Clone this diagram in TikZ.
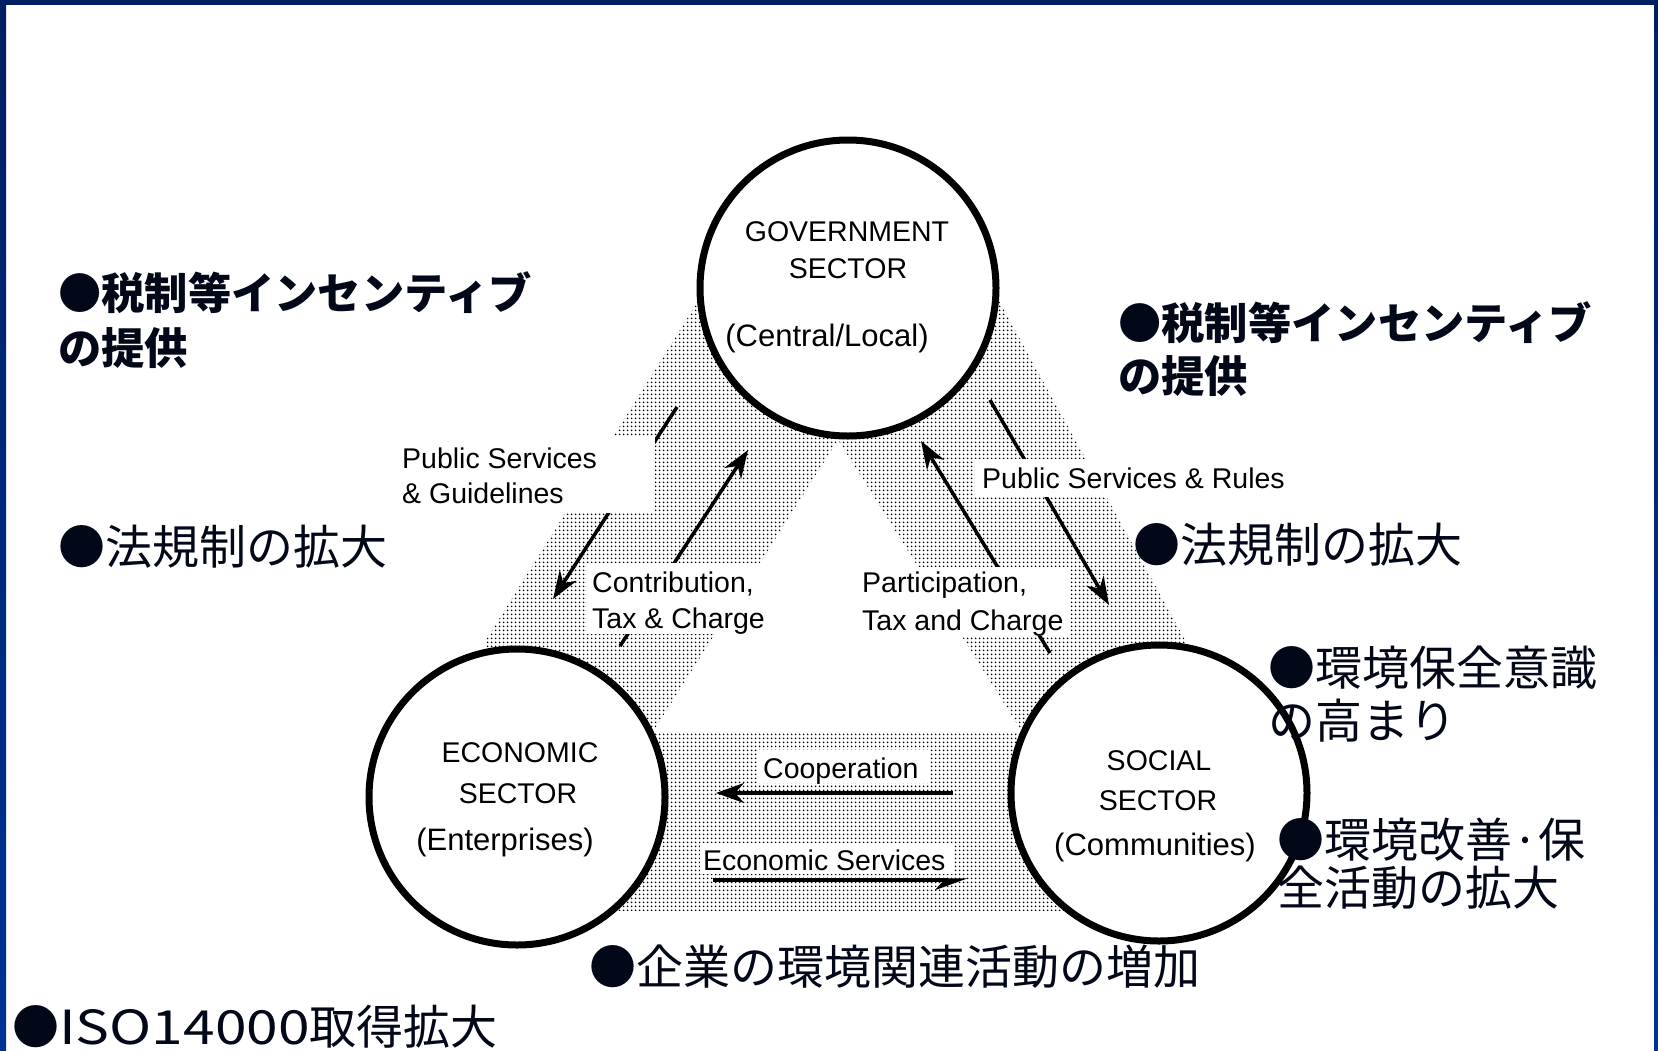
\documentclass[tikz,border=0pt]{standalone}
\usepackage{fontspec}
\usepackage{graphicx}
\setmainfont{Liberation Sans}
\newfontfamily\jp{Noto Sans CJK JP}
\usetikzlibrary{arrows.meta,patterns.meta}
\definecolor{navyA}{RGB}{0,30,98}
\definecolor{navyB}{RGB}{0,50,150}
\definecolor{jtext}{RGB}{2,8,24}
\begin{document}
\begin{tikzpicture}[x=1pt,y=-1pt,
  sector/.style={circle,draw,line width=7pt,fill=white,minimum size=296pt,inner sep=0pt},
  ctext/.style={anchor=base,inner sep=0pt,font=\fontsize{28.5}{30}\selectfont},
  ptext/.style={anchor=base,inner sep=0pt,font=\fontsize{31}{33}\selectfont},
  lbl/.style={anchor=base west,inner sep=0pt,font=\fontsize{28.5}{30}\selectfont},
  flow/.style={line width=3.5pt,-{Stealth[length=28pt,width=20pt,inset=9pt]}},
  halfflow/.style={line width=3.5pt,-{Stealth[length=28pt,width=20pt,inset=9pt,harpoon,swap]}},
  knock/.style={fill=white},
  jbold/.style={anchor=base west,inner sep=0pt,text=jtext,font=\jp\bfseries\fontsize{43.3}{50}\selectfont},
  jreg/.style={anchor=base west,inner sep=0pt,text=jtext,font=\jp\fontsize{47}{50}\selectfont},
]
\useasboundingbox (0,0) rectangle (1658,1050);
\fill[white] (0,0) rectangle (1658,1050);
% frame
\shade[top color=navyA,bottom color=navyB] (0,0) rectangle (6,1050);
\shade[top color=navyA,bottom color=navyB] (1654,0) rectangle (1658,1050);
\fill[navyA] (0,0) rectangle (1658,5);

% halftone band
\fill[pattern={Dots[distance=4pt,radius=1.15pt]},pattern color=black]
  (705,290) -- (486,640) -- (480,911) -- (1190,911) -- (1185,640) -- (993,290) -- cycle;
\fill[white] (838,440) -- (653,732) -- (1022,732) -- cycle;

% connector end points
\coordinate (a1s) at (677,407); \coordinate (a1e) at (553,599);
\coordinate (a2s) at (620,646); \coordinate (a2e) at (748,450);
\coordinate (a3s) at (1050,653); \coordinate (a3e) at (921,441);
\coordinate (a4s) at (990,400); \coordinate (a4e) at (1109,605);
\coordinate (a5s) at (953,793); \coordinate (a5e) at (716,793);
\coordinate (a6s) at (713,880); \coordinate (a6e) at (968,880);

\draw[flow] (a1s) -- (a1e);
\draw[flow] (a2s) -- (a2e);
\draw[flow] (a3s) -- (a3e);
\draw[flow] (a4s) -- (a4e);
\draw[flow] (a5s) -- (a5e);
\draw[halfflow] (a6s) -- (a6e);

% label knock-outs
\fill[knock] (395,437) rectangle (655,513);
\fill[knock] (587,563) rectangle (772,634);
\fill[knock] (856,567) rectangle (1070,636);
\fill[knock] (975,459) rectangle (1295,497);
\fill[knock] (757,750) rectangle (930,783);
\fill[knock] (700,843) rectangle (953,874);

% sectors
\node[sector] (gov) at (848,288) {};
\node[sector] (eco) at (517,797) {};
\node[sector] (soc) at (1159,793) {};

\node[ctext] (gov1) at (847,241) {GOVERNMENT};
\node[ctext] (gov2) at (848,278) {SECTOR};
\node[ptext] (gov3) at (827,346) {(Central/Local)};
\node[ctext] (eco1) at (520,762) {ECONOMIC};
\node[ctext] (eco2) at (518,803) {SECTOR};
\node[ptext] (eco3) at (505,850) {(Enterprises)};
\node[ctext] (soc1) at (1159,770) {SOCIAL};
\node[ctext] (soc2) at (1158,810) {SECTOR};
\node[ptext] (soc3) at (1155,855) {(Communities)};

% flow labels
\node[lbl] (l1a) at (402,468) {Public Services};
\node[lbl] (l1b) at (402,503) {\& Guidelines};
\node[lbl] (l2a) at (592,592) {Contribution,};
\node[lbl] (l2b) at (592,628) {Tax \& Charge};
\node[lbl] (l3a) at (862,592) {Participation,};
\node[lbl] (l3b) at (862,630) {Tax and Charge};
\node[lbl] (l4) at (982,488) {Public Services \& Rules};
\node[lbl] (l5) at (763,778) {Cooperation};
\node[lbl] (l6) at (703,870) {Economic Services};

% Japanese notes
\node[jbold] (tl1) at (58,309) {●税制等インセンティブ};
\node[jbold] (tl2) at (58,364) {の提供};
\node[jreg] (ll) at (58,564) {●法規制の拡大};
\node[jbold] (tr1) at (1118,339) {●税制等インセンティブ};
\node[jbold] (tr2) at (1118,392) {の提供};
\node[jreg] (rl) at (1133,562) {●法規制の拡大};
\node[jreg] (ka1) at (1268,685) {●環境保全意識};
\node[jreg] (ka2) at (1268,738) {の高まり};
\node[jreg] (kb1) at (1277,857) {●環境改善·保};
\node[jreg] (kb2) at (1277,905) {全活動の拡大};
\node[jreg] (kc) at (589,984) {●企業の環境関連活動の増加};
\node[jreg] (iso) at (12,1044) {●\scalebox{1.21}[1]{ISO14000}取得拡大};
\end{tikzpicture}
\end{document}
